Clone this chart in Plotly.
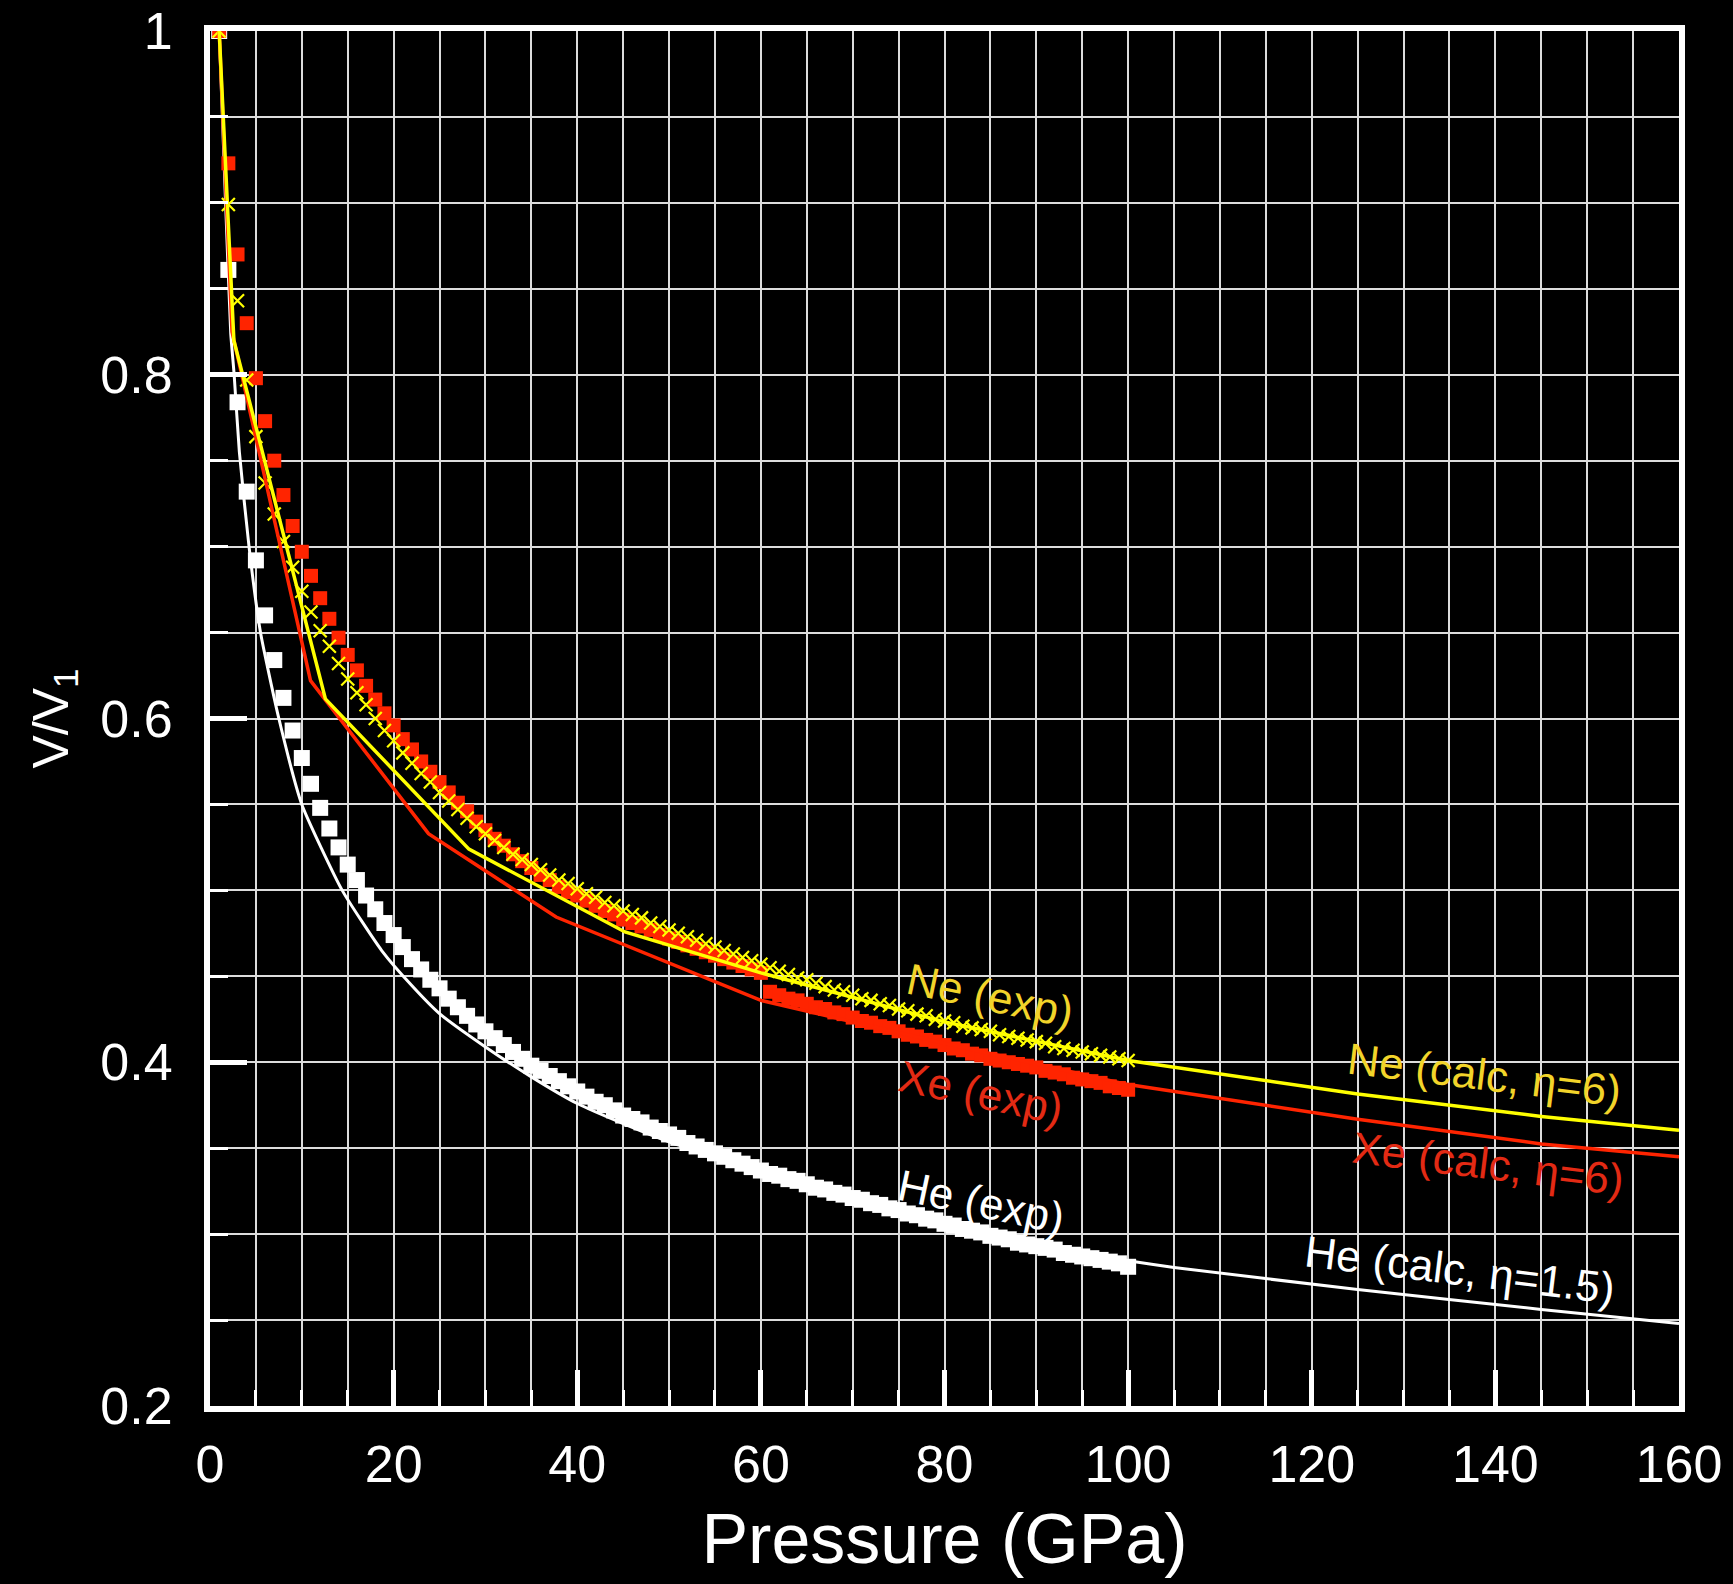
import plotly.graph_objects as go

# ---------------- data ----------------
P_exp = [1, 2, 3, 4, 5, 6, 7, 8, 9, 10, 11, 12, 13, 14, 15, 16, 17, 18, 19, 20,
         21, 22, 23, 24, 25, 26, 27, 28, 29, 30, 31, 32, 33, 34, 35, 36, 37, 38, 39, 40,
         41, 42, 43, 44, 45, 46, 47, 48, 49, 50, 51, 52, 53, 54, 55, 56, 57, 58, 59, 60,
         61, 62, 63, 64, 65, 66, 67, 68, 69, 70, 71, 72, 73, 74, 75, 76, 77, 78, 79, 80,
         81, 82, 83, 84, 85, 86, 87, 88, 89, 90, 91, 92, 93, 94, 95, 96, 97, 98, 99, 100]

He_exp = [1.000, 0.861, 0.784, 0.732, 0.692, 0.660, 0.634, 0.612, 0.593, 0.577, 0.562,
          0.548, 0.536, 0.525, 0.515, 0.506, 0.497, 0.489, 0.481, 0.474,
          0.467, 0.460, 0.454, 0.448, 0.443, 0.437, 0.432, 0.427, 0.422, 0.418,
          0.414, 0.410, 0.406, 0.402, 0.398, 0.395, 0.392, 0.389, 0.386, 0.383,
          0.380, 0.377, 0.375, 0.372, 0.369, 0.367, 0.365, 0.362, 0.360, 0.358,
          0.356, 0.353, 0.351, 0.349, 0.347, 0.345, 0.343, 0.341, 0.339, 0.337,
          0.335, 0.334, 0.332, 0.331, 0.329, 0.327, 0.326, 0.324, 0.323, 0.321,
          0.320, 0.318, 0.317, 0.315, 0.314, 0.312, 0.311, 0.309, 0.308, 0.306,
          0.305, 0.303, 0.302, 0.301, 0.299, 0.298, 0.297, 0.295, 0.294, 0.293,
          0.292, 0.291, 0.289, 0.288, 0.287, 0.286, 0.285, 0.284, 0.283, 0.281]

Ne_exp = [1.000, 0.899, 0.843, 0.797, 0.764, 0.737, 0.719, 0.703, 0.688, 0.674, 0.662,
          0.651, 0.642, 0.632, 0.623, 0.615, 0.608, 0.600, 0.593, 0.587,
          0.580, 0.574, 0.568, 0.563, 0.557, 0.552, 0.547, 0.542, 0.537, 0.533,
          0.529, 0.525, 0.521, 0.518, 0.515, 0.512, 0.509, 0.506, 0.504, 0.501,
          0.498, 0.496, 0.493, 0.491, 0.488, 0.486, 0.484, 0.481, 0.479, 0.477,
          0.475, 0.473, 0.471, 0.469, 0.467, 0.465, 0.463, 0.461, 0.459, 0.457,
          0.455, 0.453, 0.451, 0.449, 0.448, 0.446, 0.444, 0.442, 0.441, 0.439,
          0.437, 0.436, 0.434, 0.433, 0.431, 0.430, 0.428, 0.427, 0.425, 0.424,
          0.423, 0.421, 0.420, 0.419, 0.418, 0.416, 0.415, 0.414, 0.413, 0.412,
          0.411, 0.409, 0.408, 0.407, 0.406, 0.405, 0.404, 0.403, 0.402, 0.401]

Xe_exp = [1.000, 0.923, 0.870, 0.830, 0.798, 0.773, 0.750, 0.730, 0.712, 0.697, 0.683,
          0.670, 0.658, 0.647, 0.637, 0.628, 0.619, 0.611, 0.603, 0.596,
          0.588, 0.582, 0.575, 0.569, 0.563, 0.557, 0.551, 0.546, 0.540, 0.535,
          0.530, 0.526, 0.521, 0.517, 0.513, 0.509, 0.506, 0.502, 0.499, 0.497,
          0.494, 0.491, 0.488, 0.486, 0.483, 0.481, 0.479, 0.477, 0.474, 0.472,
          0.470, 0.468, 0.466, 0.464, 0.462, 0.460, 0.458, 0.456, 0.454, 0.452,
          0.441, 0.439, 0.437, 0.436, 0.434, 0.432, 0.431, 0.429, 0.428, 0.426,
          0.424, 0.423, 0.421, 0.420, 0.418, 0.416, 0.415, 0.413, 0.412, 0.410,
          0.408, 0.407, 0.405, 0.404, 0.402, 0.401, 0.400, 0.399, 0.398, 0.397,
          0.395, 0.394, 0.393, 0.391, 0.390, 0.389, 0.388, 0.386, 0.385, 0.384]

He_calc_P = [1, 1.7, 2.26, 2.63, 3.2, 4.25, 5.5, 7.5, 10, 14.4, 18.7, 22, 25, 30, 35, 40,
             45, 50, 60, 70, 80, 90, 100, 105, 125, 145, 160]
He_calc_V = [1.0, 0.90, 0.824, 0.80, 0.755, 0.70, 0.65, 0.60, 0.55, 0.50, 0.465, 0.4445, 0.4283,
             0.4089, 0.3915, 0.376, 0.3643, 0.3537, 0.336, 0.320, 0.306, 0.294, 0.2845,
             0.2806, 0.2678, 0.2562, 0.248]

Ne_calc_P = [1, 2.6, 12.57, 28.2, 45.2, 60, 80, 100, 125, 145, 160]
Ne_calc_V = [1.0, 0.82, 0.6114, 0.524, 0.4758, 0.452, 0.4235, 0.401, 0.3815, 0.3685, 0.3605]

Xe_calc_P = [1, 2.4, 10.95, 23.8, 37.7, 60, 80, 100, 125, 145, 160]
Xe_calc_V = [1.0, 0.825, 0.622, 0.533, 0.4845, 0.436, 0.411, 0.387, 0.3668, 0.3525, 0.345]

x_ticks = [0, 20, 40, 60, 80, 100, 120, 140, 160]
y_ticks = [0.2, 0.4, 0.6, 0.8, 1.0]
y_tick_text = ["0.2", "0.4", "0.6", "0.8", "1"]

# ---------------- styling ----------------
FONT = "Liberation Sans, Arial, Helvetica, sans-serif"
WHITE = "#ffffff"
RED = "#ff2400"
YELLOW = "#ffff00"
RED_TXT = "#e32a14"
YEL_TXT = "#f2d42a"
GRID = "#dcdcdc"

fig = go.Figure()

fig.add_trace(go.Scatter(x=P_exp, y=He_exp, mode="markers",
                         marker=dict(symbol="square", size=16, color=WHITE, line=dict(width=0))))
fig.add_trace(go.Scatter(x=He_calc_P, y=He_calc_V, mode="lines",
                         line=dict(color=WHITE, width=3, shape="spline", smoothing=0.5)))
fig.add_trace(go.Scatter(x=P_exp, y=Xe_exp, mode="markers",
                         marker=dict(symbol="square", size=14, color=RED, line=dict(width=0))))
fig.add_trace(go.Scatter(x=P_exp, y=Ne_exp, mode="markers",
                         marker=dict(symbol="x-thin", size=13, color=YELLOW,
                                     line=dict(width=2.2, color=YELLOW))))
fig.add_trace(go.Scatter(x=Xe_calc_P, y=Xe_calc_V, mode="lines",
                         line=dict(color=RED, width=3.5)))
fig.add_trace(go.Scatter(x=Ne_calc_P, y=Ne_calc_V, mode="lines",
                         line=dict(color=YELLOW, width=3.5)))

labels = [
    ("Ne (exp)", 85.0, 0.439, 12, YEL_TXT),
    ("Xe (exp)", 84.0, 0.3826, 12, RED_TXT),
    ("He (exp)", 84.0, 0.3192, 12, WHITE),
    ("Ne (calc, η=6)", 138.8, 0.393, 7, YEL_TXT),
    ("Xe (calc, η=6)", 139.2, 0.3413, 7, RED_TXT),
    ("He (calc, η=1.5)", 136.1, 0.2797, 7, WHITE),
]
for txt, lx, ly, ang, col in labels:
    fig.add_annotation(x=lx, y=ly, xref="x", yref="y", text=txt, showarrow=False,
                       textangle=ang, font=dict(family=FONT, size=44, color=col))

fig.update_layout(
    width=1733, height=1584,
    margin=dict(l=210, r=54, t=31, b=178, autoexpand=False),
    paper_bgcolor="black", plot_bgcolor="black",
    showlegend=False,
    font=dict(family=FONT, color=WHITE),
)

fig.update_xaxes(
    range=[0, 160], tickmode="array", tickvals=x_ticks,
    ticks="inside", ticklen=36, tickwidth=5, tickcolor=WHITE,
    showline=True, linewidth=6, linecolor=WHITE, mirror=True,
    showgrid=True, gridcolor=GRID, gridwidth=2, zeroline=False,
    minor=dict(dtick=5, tick0=0, ticks="inside", ticklen=16, tickwidth=3, tickcolor=WHITE,
               showgrid=True, gridcolor=GRID, gridwidth=2),
    tickfont=dict(family=FONT, size=52, color=WHITE),
    ticklabelstandoff=8,
    title=dict(text="Pressure (GPa)", font=dict(family=FONT, size=70, color=WHITE), standoff=24),
)
fig.update_yaxes(
    range=[0.2, 1.0], tickmode="array", tickvals=y_ticks, ticktext=y_tick_text,
    ticks="inside", ticklen=37, tickwidth=5, tickcolor=WHITE,
    showline=True, linewidth=6, linecolor=WHITE, mirror=True,
    showgrid=True, gridcolor=GRID, gridwidth=2, zeroline=False,
    minor=dict(dtick=0.05, tick0=0.2, ticks="inside", ticklen=18, tickwidth=3, tickcolor=WHITE,
               showgrid=True, gridcolor=GRID, gridwidth=2),
    tickfont=dict(family=FONT, size=52, color=WHITE),
    ticklabelstandoff=21,
    title=dict(text="V/V<sub>1</sub>", font=dict(family=FONT, size=50, color=WHITE), standoff=18),
)

fig.write_html("out.html")
